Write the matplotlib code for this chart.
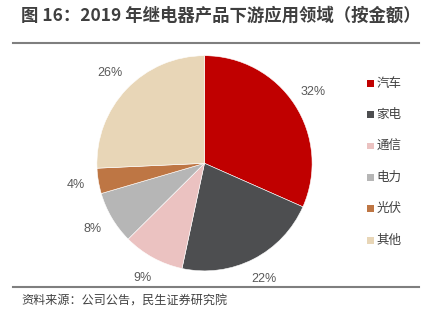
import matplotlib
matplotlib.use("Agg")
import matplotlib.pyplot as plt
from matplotlib.patches import Rectangle
from matplotlib.lines import Line2D

plt.rcParams['font.family'] = ['Noto Sans CJK SC', 'DejaVu Sans']

categories = ['汽车', '家电', '通信', '电力', '光伏', '其他']
values = [31.6, 21.7, 9.2, 7.9, 3.8, 25.7]
colors = ['#C00000', '#4D4E50', '#EBC2C1', '#B6B6B6', '#BE7644', '#E8D6B7']
title = '图 16：2019 年继电器产品下游应用领域（按金额）'
source = '资料来源：公司公告，民生证券研究院'

W, H = 433, 322
fig = plt.figure(figsize=(W / 100, H / 100), dpi=100)
fig.patch.set_facecolor('white')

def fx(px):
    return px / W

def fy(py):
    return 1 - py / H

# pie axes
cx, cy, r = 204.5, 163.3, 107.6
ax = fig.add_axes([fx(cx - r), fy(cy + r), 2 * r / W, 2 * r / H])
wedges, texts, autotexts = ax.pie(
    values, colors=colors, startangle=90, counterclock=False,
    autopct='%.0f%%', pctdistance=1.21,
    wedgeprops=dict(edgecolor='white', linewidth=0.4),
    textprops=dict(color='#595959', fontsize=9, family=['Liberation Sans', 'DejaVu Sans']))
ax.set_xlim(-1, 1)
ax.set_ylim(-1, 1)
ax.set_aspect('equal')
ax.axis('off')

# title
fig.text(fx(21), fy(15.5), title, fontsize=12.5, fontweight='bold', color='#3F3F3F',
         ha='left', va='center')
fig.add_artist(Line2D([fx(12.5), fx(419)], [fy(42.7), fy(42.7)], color='#7F7F7F', lw=1.5))
fig.add_artist(Line2D([fx(12.5), fx(419)], [fy(287.3), fy(287.3)], color='#7F7F7F', lw=1.5))
fig.text(fx(21.5), fy(300.7), source, fontsize=8.7, color='#404040', ha='left', va='center')

# legend
for i, (cat, col) in enumerate(zip(categories, colors)):
    y = 83.3 + i * 31.4
    fig.add_artist(Rectangle((fx(367.3), fy(y + 3.3)), 6.7 / W, 6.7 / H,
                             facecolor=col, edgecolor='none'))
    fig.text(fx(376.5), fy(y), cat, fontsize=9, color='#404040', ha='left', va='center')

fig.savefig('out.png', dpi=100)
